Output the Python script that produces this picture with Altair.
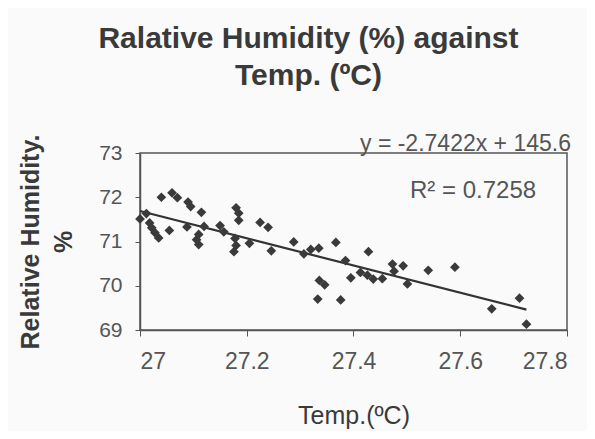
import altair as alt
import pandas as pd

# Temperature (°C) and relative humidity (%)
temp = [27.04, 27.06, 27.07, 27.09, 27.095, 27.115, 27.18, 27.185, 27.185, 27.225,
        27.24, 27.0, 27.012, 27.018, 27.022, 27.028, 27.035, 27.055, 27.088, 27.11,
        27.106, 27.11, 27.12, 27.15, 27.157, 27.178, 27.18, 27.176, 27.205, 27.246,
        27.288, 27.307, 27.32, 27.335, 27.336, 27.346, 27.333, 27.367, 27.428, 27.385,
        27.395, 27.376, 27.413, 27.426, 27.437, 27.454, 27.473, 27.476, 27.493, 27.501,
        27.54, 27.59, 27.659, 27.711, 27.724]
rh = [72.00, 72.10, 71.99, 71.89, 71.79, 71.66, 71.76, 71.64, 71.48, 71.43,
      71.32, 71.51, 71.63, 71.42, 71.31, 71.20, 71.08, 71.25, 71.33, 71.16,
      71.04, 70.93, 71.34, 71.36, 71.22, 71.07, 70.91, 70.77, 70.96, 70.79,
      70.99, 70.72, 70.82, 70.85, 70.12, 70.02, 69.70, 70.98, 70.77, 70.57,
      70.18, 69.68, 70.30, 70.24, 70.15, 70.16, 70.49, 70.33, 70.45, 70.04,
      70.35, 70.42, 69.48, 69.72, 69.13]

x_ticks = [27.0, 27.2, 27.4, 27.6, 27.8]
y_ticks = [69, 70, 71, 72, 73]

title_lines = ["Ralative Humidity (%) against", "Temp. (ºC)"]
x_title = "Temp.(ºC)"
y_title = ["Relative Humidity.", "%"]
equation = ["y = -2.7422x + 145.6"]
r_squared = ["R² = 0.7258"]

df = pd.DataFrame({"temp": temp, "rh": rh})

FONT = "Liberation Sans"
INK = "#3a3a3a"
GREY = "#555555"

x_enc = alt.X(
    "temp:Q",
    scale=alt.Scale(domain=[27.0, 27.8], nice=False, zero=False),
    axis=alt.Axis(
        values=x_ticks, format="~g", title=x_title, grid=False,
        labelFont=FONT, labelFontSize=23, labelColor=GREY, labelPadding=14,
        tickSize=6, tickColor=GREY, domainColor=GREY, domainWidth=1.5,
        titleFont=FONT, titleFontSize=25, titleFontWeight="normal", titleColor=INK,
        titlePadding=30,
    ),
)
y_enc = alt.Y(
    "rh:Q",
    scale=alt.Scale(domain=[69, 73], nice=False, zero=False),
    axis=alt.Axis(
        values=y_ticks, title=y_title, grid=False,
        labelFont=FONT, labelFontSize=21, labelColor=GREY, labelPadding=13,
        tickSize=5, tickColor=GREY, domainColor=GREY, domainWidth=1.5,
        titleFont=FONT, titleFontSize=25, titleFontWeight="bold", titleColor=INK,
        titleLineHeight=33, titlePadding=22,
    ),
)

points = alt.Chart(df).mark_point(
    shape="diamond", filled=True, size=95, color=INK, opacity=1
).encode(x=x_enc, y=y_enc)

trend = alt.Chart(df).transform_regression("temp", "rh").mark_line(
    color="#333333", strokeWidth=2.2
).encode(x=x_enc, y=y_enc)

eq = alt.Chart(pd.DataFrame({"t": equation})).mark_text(
    align="left", baseline="bottom", font=FONT, fontSize=23, color=GREY
).encode(x=alt.value(220), y=alt.value(3), text="t:N")

r2 = alt.Chart(pd.DataFrame({"t": r_squared})).mark_text(
    align="left", baseline="middle", font=FONT, fontSize=24, color=GREY
).encode(x=alt.value(270), y=alt.value(38), text="t:N")

chart = alt.layer(trend, points, eq, r2).properties(
    width=427,
    height=177,
    title=alt.TitleParams(
        text=title_lines, font=FONT, fontSize=30, fontWeight="bold", color=INK,
        lineHeight=37, anchor="middle", dx=-45, offset=12, baseline="bottom",
    ),
    padding={"left": 132, "top": 145, "right": 20, "bottom": 101},
    autosize=alt.AutoSizeParams(type="none"),
    background="#fafafa",
).configure_view(stroke=GREY, strokeWidth=1.5)

chart.save("out.html", embed_options={"renderer": "svg", "actions": False})
